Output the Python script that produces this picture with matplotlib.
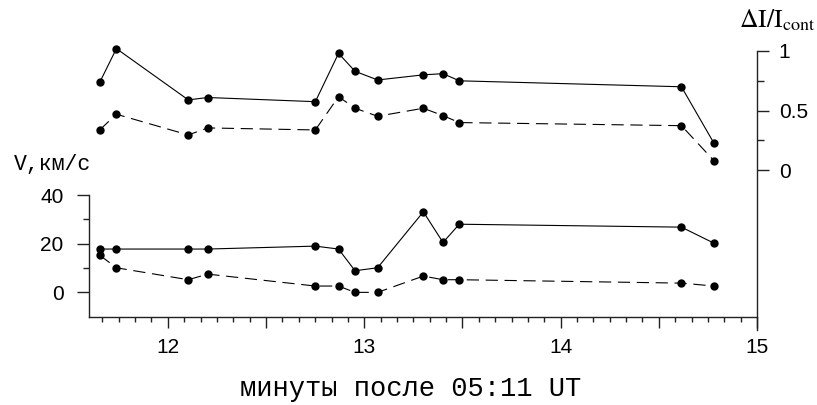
############ Packages ############
import numpy as np
import matplotlib.pyplot as plt
from matplotlib.ticker import MultipleLocator, FixedLocator

############ Data ############
t = [11.654, 11.738, 12.104, 12.203, 12.751, 12.869, 12.953,
     13.068, 13.301, 13.401, 13.484, 14.615, 14.781]  # minutes after 05:11 UT

dI_solid = [0.74, 1.02, 0.59, 0.61, 0.575, 0.98, 0.83, 0.757, 0.80, 0.81, 0.75, 0.70, 0.226]
dI_dashed = [0.34, 0.47, 0.296, 0.355, 0.338, 0.617, 0.52, 0.453, 0.52, 0.458, 0.40, 0.374, 0.08]

v_solid = [17.8, 17.8, 17.8, 17.8, 19.0, 17.8, 8.9, 10.1, 33.1, 20.5, 28.0, 26.8, 20.2]
v_dashed = [15.2, 10.1, 5.2, 7.5, 2.6, 2.6, 0.0, 0.0, 6.7, 5.2, 5.2, 3.8, 2.6]

x_ticks = [12, 13, 14, 15]
v_ticks = [0, 20, 40]
dI_ticks = [0, 0.5, 1]

############ Figure ############
plt.rcParams['mathtext.fontset'] = 'stix'
tick_font = "Liberation Sans"
label_font = "Liberation Mono"

fig = plt.figure(figsize=(8.17, 4.05), dpi=100)
left, width = 0.1093, 0.8173
ax_v = fig.add_axes([left, 0.218, width, 0.3005])
ax_i = fig.add_axes([left, 0.1852, width, 0.6889])
ax_i.patch.set_alpha(0)

lw_spine = 1.0
dash = (0, (11, 6))
mk = dict(marker="o", markersize=5, color="black", linewidth=0.8)

############ Velocity panel ############
ax_v.plot(t, v_solid, linestyle="-", **mk)
ax_v.plot(t, v_dashed, linestyle=dash, **mk)
ax_v.set_xlim(11.6, 15)
ax_v.set_ylim(-10, 40)
for s in ["top", "right"]:
    ax_v.spines[s].set_visible(False)
for s in ["left", "bottom"]:
    ax_v.spines[s].set_linewidth(lw_spine)
    ax_v.spines[s].set_color("#222222")

ax_v.xaxis.set_major_locator(MultipleLocator(0.5))
ax_v.xaxis.set_minor_locator(MultipleLocator(1 / 12))
ax_v.set_xticklabels([str(int(x)) if x in x_ticks else "" for x in ax_v.get_xticks()])
ax_v.yaxis.set_major_locator(FixedLocator(v_ticks))
ax_v.yaxis.set_minor_locator(FixedLocator([10, 30]))
ax_v.tick_params(axis="x", which="major", length=8, width=1, direction="out", pad=7,
                 labelsize=15, colors="#222222", labelcolor="black")
ax_v.tick_params(axis="x", which="minor", length=3.6, width=1, direction="out", colors="#222222")
ax_v.tick_params(axis="y", which="major", length=8.6, width=1, direction="out", pad=10,
                 labelsize=15, colors="#222222", labelcolor="black")
ax_v.tick_params(axis="y", which="minor", length=4.3, width=1, direction="out", colors="#222222")
for lab in ax_v.get_xticklabels() + ax_v.get_yticklabels():
    lab.set_fontfamily(tick_font)

############ Intensity panel ############
ax_i.plot(t, dI_solid, linestyle="-", clip_on=False, **mk)
ax_i.plot(t, dI_dashed, linestyle=dash, clip_on=False, **mk)
ax_i.set_xlim(11.6, 15)
ax_i.set_ylim(-1.339, 1)
for s in ["top", "left", "bottom"]:
    ax_i.spines[s].set_visible(False)
ax_i.spines["right"].set_linewidth(lw_spine)
ax_i.spines["right"].set_color("#222222")
ax_i.set_xticks([])
ax_i.yaxis.tick_right()
ax_i.yaxis.set_major_locator(FixedLocator(dI_ticks))
ax_i.yaxis.set_minor_locator(FixedLocator([0.25, 0.75]))
ax_i.set_yticklabels(["0", "0.5", "1"])
ax_i.tick_params(axis="y", which="major", length=8.6, width=1, direction="out", pad=7,
                 labelsize=15, colors="#222222", labelcolor="black")
ax_i.tick_params(axis="y", which="minor", length=5, width=1, direction="out", colors="#222222")
for lab in ax_i.get_yticklabels():
    lab.set_fontfamily(tick_font)

############ Labels ############
fig.text(14 / 817, 1 - 170 / 405, "V,км/с", fontsize=15.5, family=label_font,
         ha="left", va="baseline")
fig.text(411 / 817, 1 - 396 / 405, "минуты после 05:11 UT", fontsize=19.5,
         family=label_font, ha="center", va="baseline")
fig.text(739 / 817, 1 - 27 / 405, r"$\Delta\mathrm{I/I_{cont}}$", fontsize=18.5,
         ha="left", va="baseline")

plt.savefig("out.png", dpi=100)
